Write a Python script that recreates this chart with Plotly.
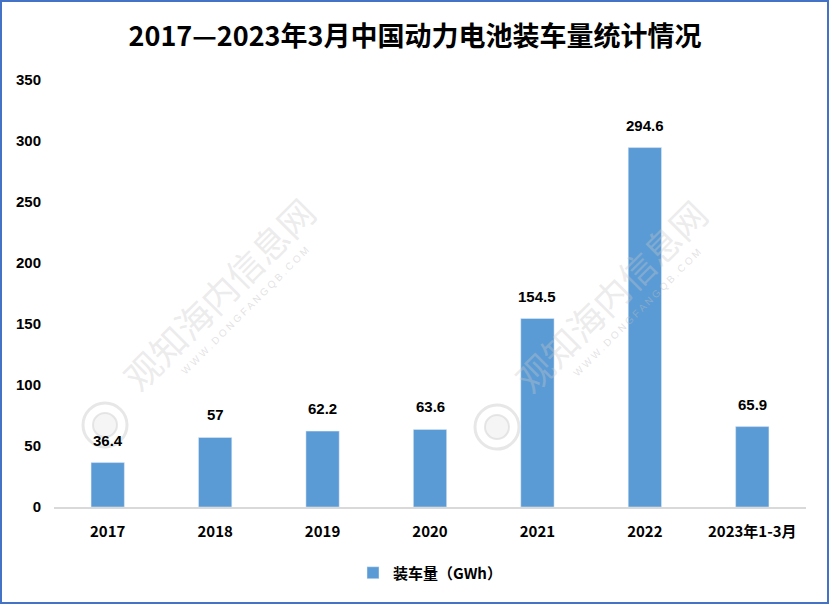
import plotly.graph_objects as go

categories = ["2017", "2018", "2019", "2020", "2021", "2022", "2023年1-3月"]
values = [36.4, 57, 62.2, 63.6, 154.5, 294.6, 65.9]
value_labels = ["36.4", "57", "62.2", "63.6", "154.5", "294.6", "65.9"]
series_name = "装车量（GWh）"
title_text = "2017—2023年3月中国动力电池装车量统计情况"
watermark_text = "观知海内信息网"
watermark_url = "WWW.DONGFANGQB.COM"

FONT = "Liberation Sans, Noto Sans CJK SC, sans-serif"
CJK = "Noto Sans CJK SC, sans-serif"

L, R, T, B = 54, 24, 80, 98
W, H = 830, 605
pw, ph = W - L - R, H - T - B


def px(x):
    return (x - L) / pw


def py(y):
    return (H - B - y) / ph


fig = go.Figure()
fig.add_trace(go.Bar(
    x=categories, y=values, name="<b>" + series_name + "</b>",
    marker=dict(color="#5B9BD5"),
    width=0.31,
))

# data labels (category index positions on the category axis)
for i, (v, t) in enumerate(zip(values, value_labels)):
    fig.add_annotation(x=i, y=v, xref="x", yref="y", text="<b>" + t + "</b>", showarrow=False,
                       yanchor="bottom", yshift=12,
                       font=dict(family=FONT, size=15, color="#000000"))

# faint watermarks
for cx, cy in [(218, 293), (610, 295)]:
    fig.add_annotation(x=px(cx), y=py(cy), xref="paper", yref="paper", text=watermark_text,
                       showarrow=False, textangle=-45, xanchor="center", yanchor="middle",
                       font=dict(family=CJK, size=36, color="rgba(200,200,200,0.35)"))
    fig.add_annotation(x=px(cx + 27), y=py(cy + 17), xref="paper", yref="paper",
                       text=" ".join(watermark_url),
                       showarrow=False, textangle=-45, xanchor="center", yanchor="middle",
                       font=dict(family=FONT, size=10, color="rgba(190,190,190,0.45)"))
    lx, ly = cx - 113, cy + 132
    fig.add_shape(type="circle", xref="paper", yref="paper", layer="below",
                  x0=px(lx - 22), x1=px(lx + 22), y0=py(ly + 22), y1=py(ly - 22),
                  line=dict(color="rgba(215,215,215,0.6)", width=3))
    fig.add_shape(type="circle", xref="paper", yref="paper", layer="below",
                  x0=px(lx - 12), x1=px(lx + 12), y0=py(ly + 12), y1=py(ly - 12),
                  line=dict(color="rgba(215,215,215,0.6)", width=2),
                  fillcolor="rgba(225,225,225,0.35)")

fig.update_layout(
    width=W, height=H,
    margin=dict(l=L, r=R, t=T, b=B),
    paper_bgcolor="white", plot_bgcolor="white",
    title=dict(text="<b>" + title_text + "</b>", x=0.5, xanchor="center",
               y=1 - 37 / H, yanchor="middle",
               font=dict(family=CJK, size=27, color="#000000")),
    font=dict(family=FONT, size=14, color="#000000"),
    showlegend=True,
    legend=dict(orientation="h", x=0.5, xanchor="center", y=-(573 - 507) / ph, yanchor="middle",
                font=dict(family=CJK, size=15, color="#000000")),
    xaxis=dict(type="category", range=[-0.5, len(categories) - 0.5],
               showline=True, linecolor="#D9D9D9", linewidth=1.5, ticks="",
               ticklabelstandoff=10,
               tickvals=categories, ticktext=["<b>" + c + "</b>" for c in categories],
               tickfont=dict(family=CJK, size=15, color="#000000"),
               showgrid=False),
    yaxis=dict(range=[0, 350], showgrid=False, showline=False, zeroline=False,
               ticks="", ticklabelstandoff=12,
               tickvals=list(range(0, 351, 50)),
               ticktext=["<b>%d</b>" % v for v in range(0, 351, 50)],
               tickfont=dict(family=FONT, size=15, color="#000000")),
)

# outer border
fig.add_shape(type="rect", xref="paper", yref="paper",
              x0=px(1), x1=px(W - 2), y0=py(H - 2), y1=py(1),
              line=dict(color="#4472C4", width=2), fillcolor="rgba(0,0,0,0)", layer="above")

fig.write_html("out.html")
